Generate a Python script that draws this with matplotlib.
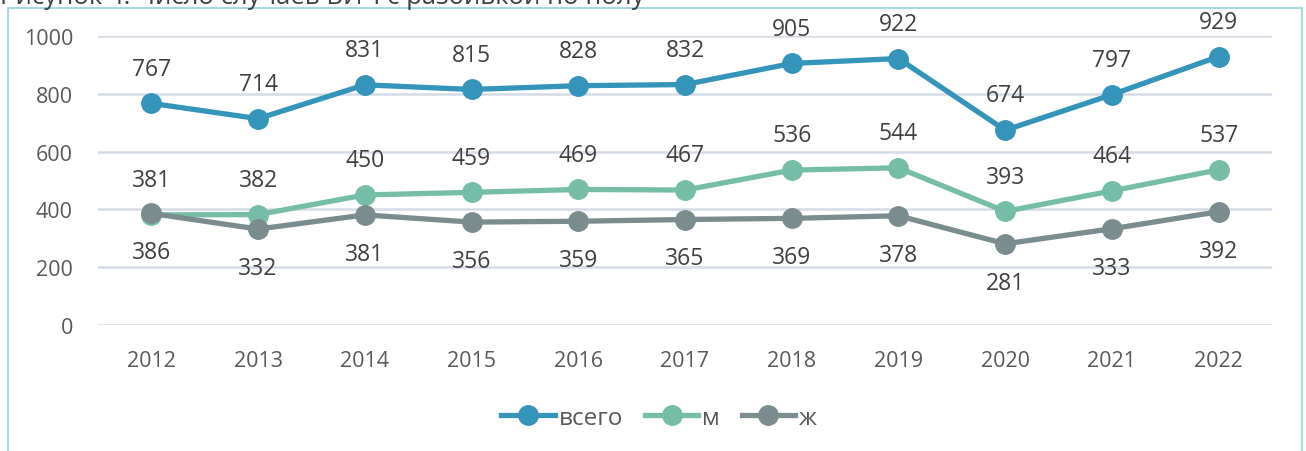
import matplotlib.pyplot as plt
from matplotlib.patches import Rectangle

years = ['2012', '2013', '2014', '2015', '2016', '2017', '2018', '2019', '2020', '2021', '2022']
total = [767, 714, 831, 815, 828, 832, 905, 922, 674, 797, 929]
male = [381, 382, 450, 459, 469, 467, 536, 544, 393, 464, 537]
female = [386, 332, 381, 356, 359, 365, 369, 378, 281, 333, 392]
series_names = ['всего', 'м', 'ж']

colors = ['#3494BA', '#75BDA7', '#7A8C8E']
text_color = '#404040'
tick_color = '#595959'

plt.rcParams['font.family'] = ['Open Sans', 'DejaVu Sans']

W, H = 1306, 452
fig = plt.figure(figsize=(W / 100, H / 100), dpi=100)

# frame around chart (bottom edge is outside the picture)
fig.patches.append(Rectangle((8 / W, -0.1), (1302 - 8) / W, 1.1 - 9 / H,
                             transform=fig.transFigure, fill=False,
                             edgecolor='#A8D8E6', linewidth=1.5))

# cut-off caption above the chart
fig.text(0 / W, 1 - 4 / H, 'Рисунок 4. Число случаев ВИЧ с разбивкой по полу',
         fontsize=18.5, color=text_color, ha='left', va='baseline')

ax = fig.add_axes([98 / W, 1 - 326 / H, (1272 - 98) / W, (326 - 37) / H])
x = list(range(len(years)))

for vals, c, name, above in [(total, colors[0], series_names[0], True),
                             (male, colors[1], series_names[1], True),
                             (female, colors[2], series_names[2], False)]:
    ax.plot(x, vals, color=c, linewidth=3.8, marker='o', markersize=14,
            label=name, clip_on=False, zorder=3)
    for xi, v in zip(x, vals):
        ax.annotate(str(v), (xi, v), xytext=(0, 25 if above else -28),
                    textcoords='offset points', ha='center', va='center',
                    fontsize=16.5, color=text_color)

ax.set_xlim(-0.5, len(years) - 0.5)
ax.set_ylim(0, 1000)
ax.set_yticks(range(0, 1001, 200))
ax.set_xticks(x)
ax.set_xticklabels(years)
ax.grid(axis='y', color='#D5DCE6', linewidth=1.8)
ax.set_axisbelow(True)
for s in ax.spines.values():
    s.set_visible(False)
ax.tick_params(axis='both', length=0, labelsize=15.5, labelcolor=tick_color)
ax.tick_params(axis='y', pad=18)
ax.tick_params(axis='x', pad=18)

leg = ax.legend(loc='center', bbox_to_anchor=((659 - 98) / 1174, (326 - 419) / (326 - 37)),
                ncol=3, frameon=False, fontsize=17.5, handlelength=2.2,
                columnspacing=0.9, handletextpad=0.15, labelcolor=tick_color)

fig.savefig('out.png', dpi=100)
